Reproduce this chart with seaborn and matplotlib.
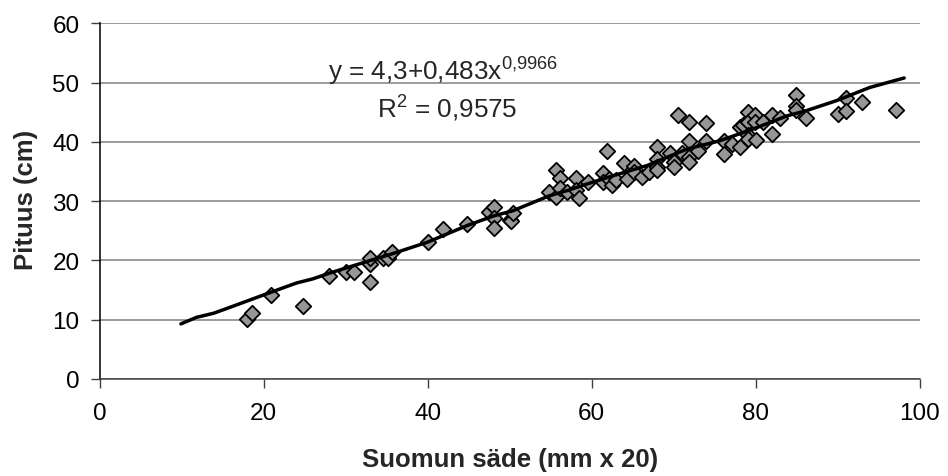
import pandas as pd
import seaborn as sns
import matplotlib
matplotlib.use("Agg")
import matplotlib.pyplot as plt

# Measured points (scale radius x 20, length in cm)
radius = [18.0, 18.6, 20.9, 24.8, 28.0, 30.0, 31.0, 32.9, 32.9, 32.9,
          34.5, 35.1, 35.6, 40.0, 41.9, 44.8, 47.5, 48.1, 48.1, 48.1,
          50.0, 50.1, 50.4, 54.8, 55.6, 56.1, 55.6, 56.1, 57.0, 58.1,
          58.1, 58.5, 59.5, 61.4, 61.4, 61.9, 62.1, 62.5, 63.0, 63.9,
          64.3, 65.1, 65.2, 66.1, 67.0, 68.0, 68.0, 68.0, 68.0, 69.5,
          70.0, 70.0, 70.5, 71.0, 71.9, 71.9, 71.9, 71.9, 73.0, 73.9,
          73.9, 76.1, 76.1, 77.1, 78.1, 78.1, 78.5, 79.0, 79.0, 79.0,
          79.0, 79.9, 79.9, 80.0, 80.9, 82.0, 82.0, 83.0, 84.9, 84.9,
          84.9, 86.1, 90.0, 91.0, 91.0, 92.9, 97.1]
length = [10.2, 11.1, 14.1, 12.4, 17.4, 18.1, 18.0, 16.4, 19.4, 20.5,
          20.5, 20.4, 21.5, 23.1, 25.3, 26.2, 28.2, 29.0, 27.1, 25.4,
          26.9, 26.6, 28.0, 31.6, 35.3, 33.9, 30.7, 32.2, 31.6, 34.0,
          31.9, 30.5, 33.3, 34.7, 33.2, 38.4, 33.8, 32.7, 33.6, 36.5,
          33.8, 36.0, 35.0, 34.1, 34.9, 39.1, 37.2, 35.7, 35.2, 38.1,
          36.7, 35.7, 44.6, 38.1, 43.4, 40.2, 37.4, 36.7, 38.4, 43.2,
          40.2, 40.1, 38.0, 39.7, 42.5, 39.2, 42.8, 45.1, 43.3, 41.2,
          40.5, 44.6, 43.3, 40.3, 43.4, 44.6, 41.4, 44.0, 47.9, 46.0,
          45.4, 44.0, 44.8, 47.5, 45.3, 46.8, 45.4]

# Trend line
trend_x = [9.9, 11.8, 13.9, 15.9, 20.8, 24.0, 26.0, 28.1, 33.0, 35.6,
           40.0, 44.8, 48.0, 50.4, 54.8, 57.0, 59.4, 62.6, 66.7, 71.6,
           75.6, 79.7, 83.8, 86.2, 89.9, 93.9, 98.1]
trend_y = [9.3, 10.4, 11.1, 12.1, 14.6, 16.2, 16.9, 17.9, 20.0, 21.1,
           23.1, 25.9, 27.5, 28.4, 30.9, 31.8, 32.9, 34.3, 36.0, 38.8,
           40.2, 42.2, 44.4, 45.3, 47.0, 49.2, 50.8]

equation = r"y = 4,3+0,483x$^{0{,}9966}$"
r_squared = r"R$^{2}$ = 0,9575"

sns.set_style("white")
plt.rcParams['font.family'] = ['Liberation Sans', 'DejaVu Sans']
plt.rcParams['mathtext.default'] = 'regular'

points = pd.DataFrame({'x': radius, 'y': length})
trend = pd.DataFrame({'x': trend_x, 'y': trend_y})

fig = plt.figure(figsize=(9.48, 4.77), dpi=100)
ax = fig.add_axes([0.1052, 0.2034, 0.865, 0.7453])

sns.scatterplot(data=points, x='x', y='y', marker='D', s=62, color='#969696',
                edgecolor='black', linewidth=1.3, zorder=3, ax=ax)
sns.lineplot(data=trend, x='x', y='y', sort=False, estimator=None,
             color='black', linewidth=2.5, zorder=4, ax=ax)

ax.set_xlim(0, 100)
ax.set_ylim(0, 60)
ax.set_xticks(range(0, 101, 20))
ax.set_yticks(range(0, 61, 10))

# Grid and axes
ax.yaxis.grid(True, color='#808080', linewidth=1.1)
ax.xaxis.grid(False)
for side in ['top', 'right']:
    ax.spines[side].set_visible(False)
ax.spines['left'].set_color('black')
ax.spines['bottom'].set_color('#404040')
ax.spines['left'].set_linewidth(1.1)
ax.spines['bottom'].set_linewidth(1.1)
ax.tick_params(axis='both', which='major', direction='out', length=6.5, width=1,
               labelsize=17.5, colors='#404040', labelcolor='black', left=True, bottom=True)
ax.tick_params(axis='y', pad=8)
ax.tick_params(axis='x', pad=10)

ax.set_xlabel('Suomun säde (mm x 20)', fontsize=18.5, fontweight='bold')
ax.set_ylabel('Pituus (cm)', fontsize=18.5, fontweight='bold')
ax.xaxis.set_label_coords(0.5, -0.19)
ax.yaxis.set_label_coords(-0.075, 0.507)

ax.text(27.84, 50.6, equation, fontsize=18.8, va='baseline', ha='left')
ax.text(33.85, 44.2, r_squared, fontsize=18.8, va='baseline', ha='left')

fig.savefig('out.png', dpi=100)
